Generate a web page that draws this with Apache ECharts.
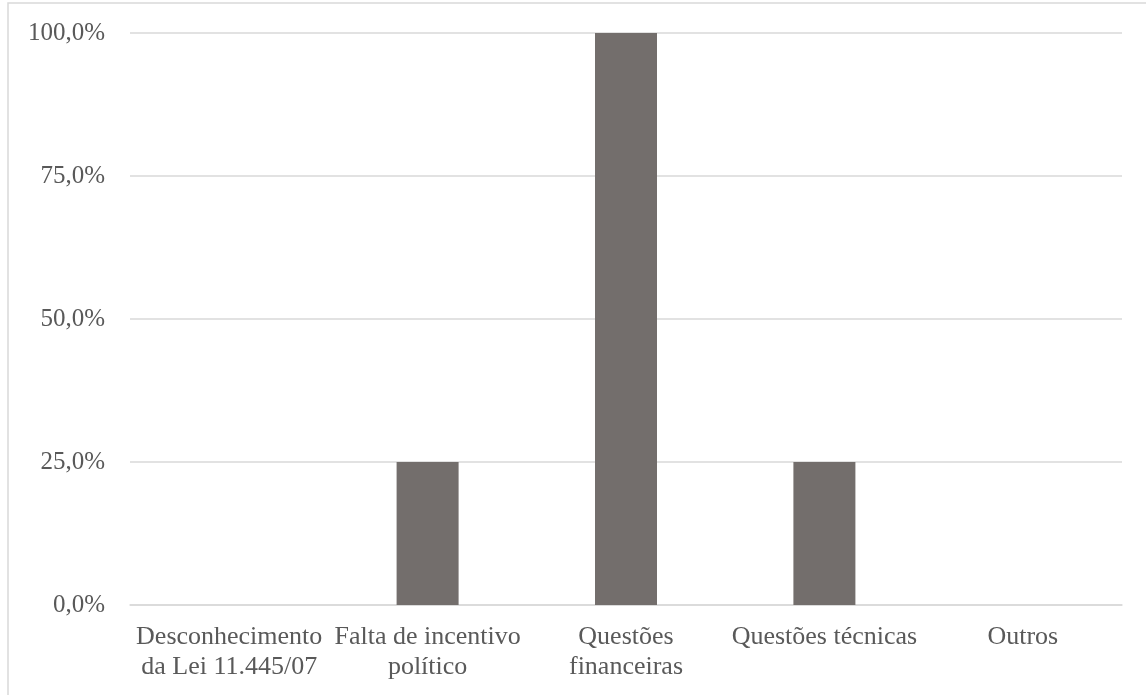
<!DOCTYPE html>
<html>
<head>
<meta charset="utf-8">
<script src="https://cdn.jsdelivr.net/npm/echarts@6/dist/echarts.min.js"></script>
<style>
  html, body { margin: 0; padding: 0; background: #fff; }
  #container { width: 1146px; height: 695px; }
</style>
</head>
<body>
<div id="container"></div>
<script>
var categories = ['Desconhecimento\nda Lei 11.445/07', 'Falta de incentivo\npolítico', 'Questões\nfinanceiras', 'Questões técnicas', 'Outros'];
var values = [0, 25, 100, 25, 0];

var dom = document.getElementById('container');
var myChart = echarts.init(dom);

var option = {
    animation: false,
    backgroundColor: '#ffffff',
    graphic: [{
        type: 'rect',
        shape: {x: 8, y: 3, width: 1160, height: 720},
        style: {fill: 'none', stroke: '#d9d9d9', lineWidth: 1.5},
        silent: true
    }],
    grid: {left: 130, right: 24, top: 33, bottom: 90},
    xAxis: {
        type: 'category',
        data: categories,
        axisLine: {lineStyle: {color: '#d9d9d9', width: 1.5}},
        axisTick: {show: false},
        axisLabel: {
            color: '#595959',
            fontFamily: 'Liberation Serif',
            fontSize: 26,
            lineHeight: 30,
            margin: 17,
            interval: 0
        }
    },
    yAxis: {
        type: 'value',
        min: 0,
        max: 100,
        interval: 25,
        axisLine: {show: false},
        axisTick: {show: false},
        splitLine: {lineStyle: {color: '#d9d9d9', width: 1.5}},
        axisLabel: {
            color: '#595959',
            fontFamily: 'Liberation Serif',
            fontSize: 25,
            margin: 25,
            formatter: function (v) { return v.toFixed(1).replace('.', ',') + '%'; }
        }
    },
    series: [{
        type: 'bar',
        data: values,
        barWidth: 62,
        itemStyle: {color: '#736e6c'}
    }]
};

myChart.setOption(option);
</script>
</body>
</html>
